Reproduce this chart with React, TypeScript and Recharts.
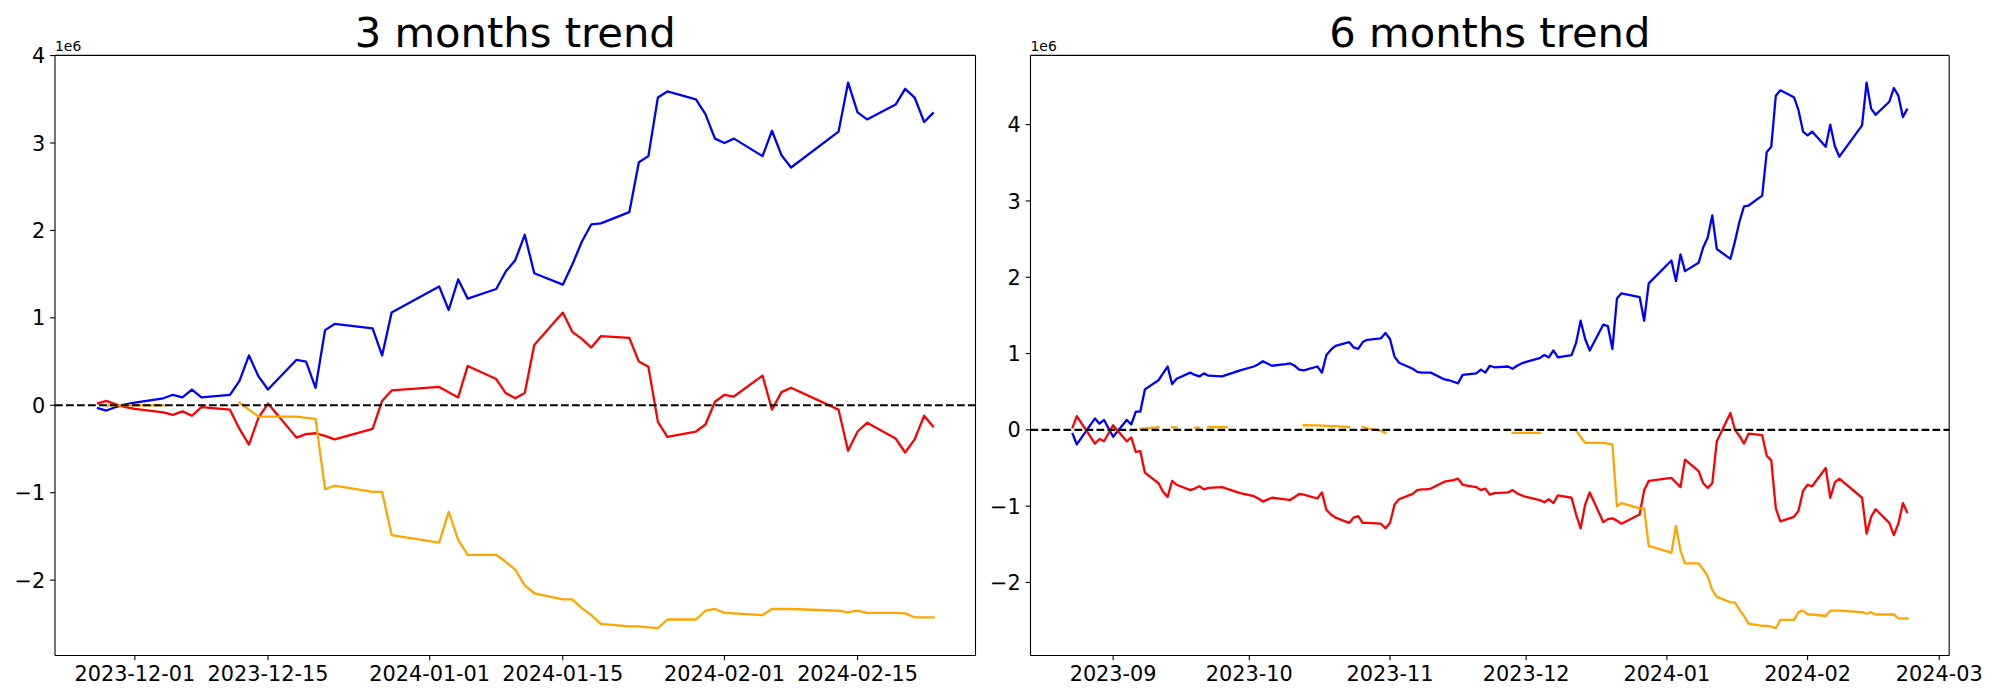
import React from 'react';
import { LineChart, Line, XAxis, YAxis, ReferenceLine } from 'recharts';

// ---------- 3 months panel data (values in units of 1e6) ----------
const dates3m = [
  '2023-11-27','2023-11-28','2023-11-29','2023-11-30','2023-12-01',
  '2023-12-04','2023-12-05','2023-12-06','2023-12-07','2023-12-08',
  '2023-12-11','2023-12-12','2023-12-13','2023-12-14','2023-12-15',
  '2023-12-18','2023-12-19','2023-12-20','2023-12-21','2023-12-22',
  '2023-12-26','2023-12-27','2023-12-28',
  '2024-01-02','2024-01-03','2024-01-04','2024-01-05',
  '2024-01-08','2024-01-09','2024-01-10','2024-01-11','2024-01-12',
  '2024-01-15','2024-01-16','2024-01-17','2024-01-18','2024-01-19',
  '2024-01-22','2024-01-23','2024-01-24','2024-01-25','2024-01-26',
  '2024-01-29','2024-01-30','2024-01-31','2024-02-01','2024-02-02',
  '2024-02-05','2024-02-06','2024-02-07','2024-02-08',
  '2024-02-13','2024-02-14','2024-02-15','2024-02-16',
  '2024-02-19','2024-02-20','2024-02-21','2024-02-22','2024-02-23',
];
const blue3m = [
  -0.03,-0.06,-0.02,0.01,0.03,
  0.08,0.12,0.09,0.18,0.09,
  0.12,0.28,0.57,0.33,0.18,
  0.52,0.50,0.20,0.86,0.93,
  0.88,0.57,1.06,
  1.36,1.09,1.44,1.22,
  1.33,1.53,1.66,1.95,1.51,
  1.38,1.61,1.87,2.07,2.08,
  2.21,2.78,2.85,3.52,3.59,
  3.50,3.33,3.05,3.00,3.05,
  2.85,3.14,2.86,2.72,
  3.13,3.69,3.35,3.27,
  3.44,3.62,3.52,3.24,3.35,
];
const red3m = [
  0.02,0.05,0.01,-0.02,-0.04,
  -0.08,-0.11,-0.07,-0.12,-0.02,
  -0.05,-0.27,-0.45,-0.14,0.02,
  -0.37,-0.33,-0.32,-0.35,-0.39,
  -0.27,0.05,0.17,
  0.21,0.15,0.09,0.45,
  0.30,0.14,0.08,0.14,0.69,
  1.06,0.84,0.76,0.66,0.79,
  0.77,0.50,0.44,-0.19,-0.36,
  -0.30,-0.22,0.04,0.12,0.10,
  0.34,-0.05,0.15,0.20,
  -0.05,-0.52,-0.30,-0.20,
  -0.38,-0.54,-0.39,-0.12,-0.25,
];
const orange3m = [
  null,0,0,0,0,
  0,null,null,null,null,
  null,0.03,-0.05,-0.13,-0.13,
  -0.13,-0.145,-0.155,-0.96,-0.92,
  -0.99,-0.99,-1.485,
  -1.57,-1.22,-1.54,-1.71,
  -1.71,-1.79,-1.88,-2.06,-2.15,
  -2.22,-2.22,-2.32,-2.40,-2.50,
  -2.53,-2.53,-2.54,-2.55,-2.45,
  -2.45,-2.35,-2.33,-2.375,-2.38,
  -2.40,-2.33,-2.33,-2.33,
  -2.35,-2.37,-2.35,-2.375,
  -2.375,-2.38,-2.425,-2.425,-2.425,
];

// ---------- 6 months panel data (values in units of 1e6) ----------
const dates6m = [
  '2023-08-23','2023-08-24','2023-08-28','2023-08-29','2023-08-30','2023-09-01',
  '2023-09-04','2023-09-05','2023-09-06','2023-09-07','2023-09-08',
  '2023-09-11','2023-09-12','2023-09-13','2023-09-14','2023-09-15',
  '2023-09-18','2023-09-19','2023-09-20','2023-09-21','2023-09-22',
  '2023-09-25','2023-09-26','2023-09-27','2023-09-28','2023-09-29',
  '2023-10-02','2023-10-03','2023-10-04','2023-10-05','2023-10-06',
  '2023-10-09','2023-10-10','2023-10-11','2023-10-12','2023-10-13',
  '2023-10-16','2023-10-17','2023-10-18','2023-10-19','2023-10-20',
  '2023-10-23','2023-10-24','2023-10-25','2023-10-26','2023-10-27',
  '2023-10-30','2023-10-31','2023-11-01','2023-11-02','2023-11-03',
  '2023-11-06','2023-11-07','2023-11-08','2023-11-09','2023-11-10',
  '2023-11-13','2023-11-14','2023-11-15','2023-11-16','2023-11-17',
  '2023-11-20','2023-11-21','2023-11-22','2023-11-23','2023-11-24',
  '2023-11-27','2023-11-28','2023-11-29','2023-11-30','2023-12-01',
  '2023-12-04','2023-12-05','2023-12-06','2023-12-07','2023-12-08',
  '2023-12-11','2023-12-12','2023-12-13','2023-12-14','2023-12-15',
  '2023-12-18','2023-12-19','2023-12-20','2023-12-21','2023-12-22',
  '2023-12-26','2023-12-27','2023-12-28',
  '2024-01-02','2024-01-03','2024-01-04','2024-01-05',
  '2024-01-08','2024-01-09','2024-01-10','2024-01-11','2024-01-12',
  '2024-01-15','2024-01-16','2024-01-17','2024-01-18','2024-01-19',
  '2024-01-22','2024-01-23','2024-01-24','2024-01-25','2024-01-26',
  '2024-01-29','2024-01-30','2024-01-31','2024-02-01','2024-02-02',
  '2024-02-05','2024-02-06','2024-02-07','2024-02-08',
  '2024-02-13','2024-02-14','2024-02-15','2024-02-16',
  '2024-02-19','2024-02-20','2024-02-21','2024-02-22','2024-02-23',
];
const blue6m = [
  -0.04,-0.19,0.15,0.08,0.13,-0.09,
  0.13,0.07,0.24,0.24,0.53,
  0.65,0.74,0.83,0.60,0.67,
  0.75,0.72,0.70,0.74,0.71,
  0.70,0.72,0.74,0.76,0.78,
  0.83,0.86,0.90,0.87,0.84,
  0.86,0.87,0.84,0.79,0.78,
  0.83,0.75,0.98,1.05,1.10,
  1.15,1.08,1.06,1.15,1.18,
  1.20,1.27,1.19,0.96,0.88,
  0.80,0.76,0.75,0.75,0.75,
  0.66,0.65,0.63,0.61,0.72,
  0.74,0.79,0.75,0.84,0.82,
  0.83,0.80,0.84,0.87,0.89,
  0.94,0.98,0.95,1.04,0.95,
  0.98,1.14,1.43,1.19,1.04,
  1.38,1.36,1.06,1.72,1.79,
  1.74,1.43,1.92,
  2.22,1.95,2.30,2.08,
  2.19,2.39,2.52,2.81,2.37,
  2.24,2.47,2.73,2.93,2.94,
  3.07,3.64,3.71,4.38,4.45,
  4.36,4.19,3.91,3.86,3.91,
  3.71,4.00,3.72,3.58,
  3.99,4.55,4.21,4.13,
  4.30,4.48,4.38,4.10,4.21,
];
const red6m = [
  0.02,0.18,-0.18,-0.12,-0.15,0.06,
  -0.15,-0.10,-0.29,-0.28,-0.56,
  -0.70,-0.81,-0.88,-0.67,-0.72,
  -0.79,-0.77,-0.74,-0.78,-0.76,
  -0.75,-0.77,-0.79,-0.81,-0.83,
  -0.87,-0.90,-0.94,-0.915,-0.89,
  -0.91,-0.92,-0.88,-0.84,-0.85,
  -0.90,-0.82,-1.05,-1.11,-1.15,
  -1.22,-1.15,-1.13,-1.22,-1.22,
  -1.23,-1.29,-1.22,-0.98,-0.91,
  -0.84,-0.79,-0.78,-0.78,-0.77,
  -0.68,-0.67,-0.66,-0.64,-0.72,
  -0.75,-0.79,-0.77,-0.85,-0.83,
  -0.82,-0.79,-0.83,-0.86,-0.88,
  -0.92,-0.95,-0.91,-0.96,-0.86,
  -0.89,-1.11,-1.29,-0.98,-0.82,
  -1.21,-1.17,-1.16,-1.19,-1.23,
  -1.11,-0.79,-0.67,
  -0.63,-0.69,-0.75,-0.39,
  -0.54,-0.70,-0.76,-0.70,-0.15,
  0.22,0.00,-0.08,-0.18,-0.05,
  -0.07,-0.34,-0.40,-1.03,-1.20,
  -1.14,-1.06,-0.80,-0.72,-0.74,
  -0.50,-0.89,-0.69,-0.64,
  -0.89,-1.36,-1.14,-1.04,
  -1.22,-1.38,-1.23,-0.96,-1.09,
];
const orange6m = [
  null,null,null,null,null,null,
  null,null,null,0.013,0.02,
  0.035,null,null,0.035,0.03,
  null,0.03,0.03,null,0.035,
  0.035,0.035,null,null,null,
  null,null,null,null,null,
  null,null,null,null,0.06,
  0.058,0.055,0.052,0.05,0.048,
  0.035,null,null,0.04,0.02,
  -0.01,-0.04,null,null,null,
  null,null,null,null,null,
  null,null,null,null,null,
  null,null,null,null,null,
  null,-0.04,-0.04,-0.04,-0.04,
  -0.04,null,null,null,null,
  null,-0.01,-0.09,-0.17,-0.17,
  -0.17,-0.18,-0.19,-1.00,-0.96,
  -1.03,-1.03,-1.52,
  -1.61,-1.26,-1.58,-1.75,
  -1.75,-1.83,-1.92,-2.10,-2.19,
  -2.26,-2.26,-2.36,-2.44,-2.54,
  -2.57,-2.57,-2.58,-2.60,-2.49,
  -2.49,-2.39,-2.37,-2.42,-2.42,
  -2.44,-2.37,-2.37,-2.37,
  -2.39,-2.41,-2.39,-2.42,
  -2.42,-2.42,-2.47,-2.47,-2.47,
];

// ---------- ticks ----------
const xTicks3m = ['2023-12-01','2023-12-15','2024-01-01','2024-01-15','2024-02-01','2024-02-15'];
const xTicks6m = ['2023-09','2023-10','2023-11','2023-12','2024-01','2024-02','2024-03'];
const yTicks3m = [-2,-1,0,1,2,3,4];
const yTicks6m = [-2,-1,0,1,2,3,4];
const titles = ['3 months trend', '6 months trend'];
const offsetLabel = '1e6';

// ---------- styling ----------
const FONT = '"DejaVu Sans", sans-serif';
const TICK_FS = 20.8;
const LW = 2.3;
const SPINE = 1.1;
const TICK_LEN = 4.86;
const TICK_PAD = 4.86;
const COLORS = { a: '#0000ff', b: '#ff0000', c: '#ffa500' };

function ts(s: string): number {
  const p = s.split('-').map(Number);
  return Date.UTC(p[0], p[1] - 1, p.length > 2 ? p[2] : 1);
}
const fmtNum = (v: number) => (v < 0 ? '\u2212' + Math.abs(v) : String(v));

type PanelProps = {
  left: number; width: number; plotLeft: number; plotRight: number;
  plotTop: number; plotBottom: number;
  dates: string[]; a: (number | null)[]; b: (number | null)[]; c: (number | null)[];
  xTicks: string[]; yTicks: number[];
};

function Panel(p: PanelProps) {
  const rows = p.dates.map((d, i) => ({ t: ts(d), a: p.a[i], b: p.b[i], c: p.c[i] }));
  const t0 = rows[0].t, t1 = rows[rows.length - 1].t;
  const xm = (t1 - t0) * 0.05;
  const vals = [...p.a, ...p.b, ...p.c].filter((v): v is number => v != null);
  const lo = Math.min(...vals), hi = Math.max(...vals);
  const ym = (hi - lo) * 0.05;
  const xDomain: [number, number] = [t0 - xm, t1 + xm];
  const yDomain: [number, number] = [lo - ym, hi + ym];
  const tickVals = p.xTicks.map(ts);
  const labelOf = (v: number) => p.xTicks[tickVals.indexOf(v)] ?? '';
  const H = 700;
  const xAxisH = 30;

  const XTick = (props: any) => {
    const { x, y, payload } = props;
    return (
      <text x={x} y={y} dy={15.6} textAnchor="middle" fontFamily={FONT} fontSize={TICK_FS} fill="#000">
        {labelOf(payload.value)}
      </text>
    );
  };
  const YTick = (props: any) => {
    const { x, y, payload } = props;
    return (
      <text x={x} y={y} dy={7.6} textAnchor="end" fontFamily={FONT} fontSize={TICK_FS} fill="#000">
        {fmtNum(payload.value)}
      </text>
    );
  };

  return (
    <div style={{ position: 'absolute', left: p.left, top: 0, width: p.width, height: H }}>
      <LineChart
        width={p.width}
        height={H}
        data={rows}
        margin={{ top: p.plotTop, right: p.width - (p.plotRight - p.left), bottom: H - p.plotBottom - xAxisH, left: 0 }}
      >
        <XAxis
          dataKey="t" type="number" domain={xDomain} ticks={tickVals} allowDataOverflow
          height={xAxisH} interval={0}
          axisLine={{ stroke: '#000', strokeWidth: SPINE }}
          tickLine={{ stroke: '#000', strokeWidth: SPINE }}
          tickSize={TICK_LEN} tickMargin={TICK_PAD} tick={<XTick />}
        />
        <YAxis
          type="number" domain={yDomain} ticks={p.yTicks} allowDataOverflow interval={0}
          width={p.plotLeft - p.left}
          axisLine={{ stroke: '#000', strokeWidth: SPINE }}
          tickLine={{ stroke: '#000', strokeWidth: SPINE }}
          tickSize={TICK_LEN} tickMargin={TICK_PAD} tick={<YTick />}
        />
        <Line type="linear" dataKey="a" stroke={COLORS.a} strokeWidth={LW} dot={false} activeDot={false}
          isAnimationActive={false} connectNulls={false} strokeLinejoin="round" />
        <Line type="linear" dataKey="b" stroke={COLORS.b} strokeWidth={LW} dot={false} activeDot={false}
          isAnimationActive={false} connectNulls={false} strokeLinejoin="round" />
        <Line type="linear" dataKey="c" stroke={COLORS.c} strokeWidth={LW} dot={false} activeDot={false}
          isAnimationActive={false} connectNulls={false} strokeLinejoin="round" strokeLinecap="square" />
        <ReferenceLine y={0} stroke="#000" strokeWidth={2.08} strokeDasharray="7.7 3.3" />
        <ReferenceLine y={yDomain[1]} stroke="#000" strokeWidth={SPINE} ifOverflow="visible" />
        <ReferenceLine x={xDomain[1]} stroke="#000" strokeWidth={SPINE} ifOverflow="visible" />
      </LineChart>
    </div>
  );
}

export default function App() {
  const L = { left: 0, width: 1000, plotLeft: 55, plotRight: 975.5, plotTop: 55.4, plotBottom: 655.5 };
  const R = { left: 960, width: 1040, plotLeft: 1030.5, plotRight: 1949.2, plotTop: 55.4, plotBottom: 655.5 };
  return (
    <div style={{ position: 'absolute', left: 0, top: 0, width: 2000, height: 700, background: '#fff', overflow: 'hidden' }}>
      <Panel {...L} dates={dates3m} a={blue3m} b={red3m} c={orange3m} xTicks={xTicks3m} yTicks={yTicks3m} />
      <Panel {...R} dates={dates6m} a={blue6m} b={red6m} c={orange6m} xTicks={xTicks6m} yTicks={yTicks6m} />
      <svg width={2000} height={700} style={{ position: 'absolute', left: 0, top: 0, pointerEvents: 'none' }}>
        <text x={(L.plotLeft + L.plotRight) / 2} y={47.1} textAnchor="middle" fontFamily={FONT} fontSize={41.7} fill="#000">{titles[0]}</text>
        <text x={(R.plotLeft + R.plotRight) / 2} y={47.1} textAnchor="middle" fontFamily={FONT} fontSize={41.7} fill="#000">{titles[1]}</text>
        <text x={L.plotLeft} y={51} fontFamily={FONT} fontSize={13.9} fill="#000">{offsetLabel}</text>
        <text x={R.plotLeft} y={51} fontFamily={FONT} fontSize={13.9} fill="#000">{offsetLabel}</text>
      </svg>
    </div>
  );
}
